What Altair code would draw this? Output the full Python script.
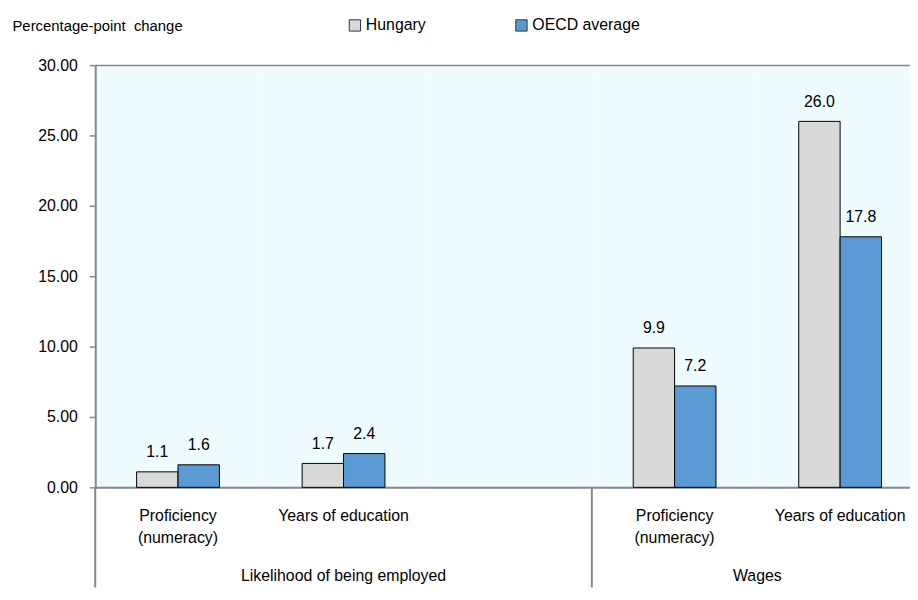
import altair as alt
import pandas as pd

# ---- data ----
categories = ["emp_prof", "emp_years", "gap", "wage_prof", "wage_years"]
category_labels = ["Proficiency\n(numeracy)", "Years of education", "",
                   "Proficiency\n(numeracy)", "Years of education"]
series = ["Hungary", "OECD average"]
hungary = [1.1, 1.7, None, 9.9, 26.0]
oecd = [1.6, 2.4, None, 7.2, 17.8]
group_names = ["Likelihood of being employed", "Wages"]
group_anchor = ["emp_years", "wage_years"]
group_start = ["emp_prof", "wage_prof"]
y_ticks = [0, 5, 10, 15, 20, 25, 30]
colors = ["#D9D9D9", "#5B9BD5"]

rows = []
for c, h, o in zip(categories, hungary, oecd):
    if h is not None:
        rows.append({"cat": c, "series": series[0], "value": h})
    if o is not None:
        rows.append({"cat": c, "series": series[1], "value": o})
df = pd.DataFrame(rows)
cat_df = pd.DataFrame({"cat": categories, "label": category_labels})
grp1 = pd.DataFrame({"cat": [group_anchor[0]], "label": [group_names[0]]})
grp2 = pd.DataFrame({"cat": [group_anchor[1]], "label": [group_names[1]]})
sep_df = pd.DataFrame({"cat": group_start})

# ---- style ----
FONT = "Liberation Sans, Arial, sans-serif"
AX = "#888888"
W, H = 822, 426
RANGE = 835

x_scale = alt.Scale(domain=categories, range=[0, RANGE], paddingInner=0, paddingOuter=0)
y_scale = alt.Scale(domain=[0, 30], nice=False)
off_scale = alt.Scale(domain=series, paddingInner=0, paddingOuter=1.0)

x_axis = alt.Axis(title=None, labels=False, ticks=False, domain=True, domainColor=AX,
                  domainWidth=2, grid=True, gridColor="white", gridDash=[3, 3],
                  gridWidth=1, bandPosition=0)
y_axis = alt.Axis(values=y_ticks, format=".2f", title="Percentage-point \u00a0change",
                  titleAngle=0, titleX=-84, titleY=-40, titleAlign="left",
                  titleBaseline="middle", titleFontSize=15, titleFontWeight="normal",
                  titleColor="black", titleFont=FONT, labelFont=FONT,
                  labelFontSize=16, labelColor="black", labelPadding=12,
                  tickSize=6, tickColor=AX, tickWidth=1.5, domainColor=AX, domainWidth=2,
                  grid=True, gridWidth=1.5,
                  gridColor={"condition": {"test": "datum.value === 30", "value": AX},
                             "value": "transparent"})

x_enc = alt.X("cat:N", scale=x_scale, axis=x_axis)
y_enc = alt.Y("value:Q", scale=y_scale, axis=y_axis)
off_enc = alt.XOffset("series:N", scale=off_scale)

bars = alt.Chart(df).mark_bar(stroke="black", strokeWidth=1).encode(
    x=x_enc,
    xOffset=off_enc,
    y=y_enc,
    color=alt.Color("series:N", scale=alt.Scale(domain=series, range=colors),
                    legend=alt.Legend(orient="none", legendX=254, legendY=-48,
                                      direction="horizontal", title=None,
                                      symbolType="square", symbolSize=130,
                                      symbolStrokeColor="#333333", symbolStrokeWidth=1,
                                      labelFontSize=16, labelColor="black", labelFont=FONT,
                                      columnPadding=88, labelOffset=3)),
)

values = alt.Chart(df).mark_text(baseline="alphabetic", dy=-15, fontSize=16,
                                 font=FONT, color="black").encode(
    x=x_enc, xOffset=off_enc, y=y_enc,
    text=alt.Text("value:Q", format=".1f"),
)

cat_text = alt.Chart(cat_df).mark_text(baseline="alphabetic", align="center", lineBreak="\n",
                                       lineHeight=22, fontSize=16, font=FONT,
                                       color="black").encode(
    x=x_enc, y=alt.value(H + 34), text="label:N")

grp_text1 = alt.Chart(grp1).mark_text(baseline="alphabetic", align="center", fontSize=16,
                                      font=FONT, color="black").encode(
    x=alt.X("cat:N", scale=x_scale, axis=x_axis, bandPosition=0.5),
    y=alt.value(H + 94), text="label:N")

grp_text2 = alt.Chart(grp2).mark_text(baseline="alphabetic", align="center", fontSize=16,
                                      font=FONT, color="black").encode(
    x=alt.X("cat:N", scale=x_scale, axis=x_axis, bandPosition=0),
    y=alt.value(H + 94), text="label:N")

seps = alt.Chart(sep_df).mark_rule(color=AX, strokeWidth=2).encode(
    x=alt.X("cat:N", scale=x_scale, axis=x_axis, bandPosition=0),
    y=alt.value(H), y2=alt.value(H + 101))

chart = alt.layer(bars, values, cat_text, grp_text1, grp_text2, seps).properties(
    width=W, height=H,
    autosize=alt.AutoSizeParams(type="none"),
    padding={"left": 88, "top": 55, "right": 0, "bottom": 103},
).configure(font=FONT, background="white").configure_view(fill="#EEFBFF", stroke=None)

chart.save("out.html", embed_options={"renderer": "svg", "actions": False})
